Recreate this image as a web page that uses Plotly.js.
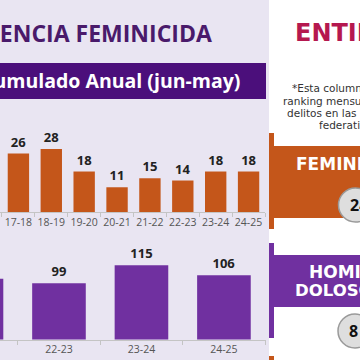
<!DOCTYPE html>
<html>
<head>
<meta charset="utf-8">
<script src="https://cdn.plot.ly/plotly-3.0.1.min.js"></script>
<style>html,body{margin:0;padding:0;background:#e9e5f2;}#chart{width:360px;height:360px;}</style>
</head>
<body>
<div id="chart"></div>
<script>
// ---- data ----
const categoriesTop = ['17-18','18-19','19-20','20-21','21-22','22-23','23-24','24-25'];
const valuesTop = [26, 28, 18, 11, 15, 14, 18, 18];
const categoriesBottom = ['21-22','22-23','23-24','24-25'];
const valuesBottom = [103, 99, 115, 106];
const titleText = 'VIOLENCIA FEMINICIDA';
const bannerText = 'Acumulado Anual (jun-may)';
const sideTitle = 'ENTIDAD';
const noteLines = ['*Esta columna muestra el', 'ranking mensual de los', 'delitos en las entidades', 'federativas'];
const rankFeminicidio = '24';
const rankHomicidio = '8';

// ---- helpers (pixel -> paper) ----
const W = 360, H = 360;
const px = v => v / W;
const py = v => 1 - v / H;

const ORANGE = '#c4561a';
const PURPLE = '#7030a0';
const FONT = 'Open Sans, Noto Sans, sans-serif';
const WIDE = 'DejaVu Sans, sans-serif';

const traces = [
  {
    type: 'bar', x: categoriesTop, y: valuesTop, xaxis: 'x', yaxis: 'y',
    marker: {color: ORANGE}, text: valuesTop.map(String), textposition: 'outside',
    textfont: {family: FONT, size: 13, color: '#222', weight: 'bold'},
    cliponaxis: false, hoverinfo: 'none'
  },
  {
    type: 'bar', x: categoriesBottom, y: valuesBottom, xaxis: 'x2', yaxis: 'y2',
    marker: {color: PURPLE}, text: valuesBottom.map(String), textposition: 'outside',
    textfont: {family: FONT, size: 13, color: '#222', weight: 'bold'},
    cliponaxis: false, hoverinfo: 'none'
  }
];

const axisCommon = {
  type: 'category', showgrid: false, zeroline: false, showline: true,
  linecolor: '#c4c4c4', linewidth: 1, ticks: 'outside', tickson: 'boundaries',
  ticklen: 4, tickcolor: '#c4c4c4', tickangle: 0,
  tickfont: {family: FONT, size: 10.5, color: '#555'}
};

function note(text, x, y) {
  return {text: text, xref: 'paper', yref: 'paper', x: px(x), y: py(y), xanchor: 'left', yanchor: 'middle',
    showarrow: false, height: 12, font: {family: WIDE, size: 10.5, color: '#333'}};
}
function label(text, x, y, size) {
  return {text: '<b>' + text + '</b>', xref: 'paper', yref: 'paper', x: px(x), y: py(y), xanchor: 'left', yanchor: 'middle',
    showarrow: false, height: 16, font: {family: WIDE, size: size, color: '#ffffff'}};
}

const layout = {
  width: W, height: H,
  margin: {l: 0, r: 0, t: 0, b: 0},
  paper_bgcolor: '#e9e5f2', plot_bgcolor: 'rgba(0,0,0,0)',
  showlegend: false,
  font: {family: FONT},
  xaxis: Object.assign({}, axisCommon, {domain: [0, px(265)], range: [-0.56, 7.5], anchor: 'y'}),
  yaxis: {domain: [py(212), py(120)], range: [0, 40.9], visible: false, anchor: 'x'},
  xaxis2: Object.assign({}, axisCommon, {domain: [0, px(266)], range: [0.285, 3.51], anchor: 'y2'}),
  yaxis2: {domain: [py(339.5), py(240)], range: [49, 137.4], visible: false, anchor: 'x2'},
  bargap: 0.35,
  shapes: [
    {type: 'rect', xref: 'paper', yref: 'paper', x0: px(-5), x1: px(266), y0: py(99), y1: py(63),
      fillcolor: '#4b0f7b', line: {width: 0}, layer: 'below'},
    {type: 'rect', xref: 'paper', yref: 'paper', x0: px(269), x1: px(365), y0: py(365), y1: py(-5),
      fillcolor: '#ffffff', line: {width: 0}, layer: 'below'},
    {type: 'rect', xref: 'paper', yref: 'paper', x0: px(269), x1: px(274), y0: py(229), y1: py(133),
      fillcolor: ORANGE, line: {width: 0}, layer: 'below'},
    {type: 'rect', xref: 'paper', yref: 'paper', x0: px(273), x1: px(365), y0: py(218), y1: py(146),
      fillcolor: ORANGE, line: {width: 0}, layer: 'below'},
    {type: 'rect', xref: 'paper', yref: 'paper', x0: px(269), x1: px(274), y0: py(338), y1: py(243),
      fillcolor: PURPLE, line: {width: 0}, layer: 'below'},
    {type: 'rect', xref: 'paper', yref: 'paper', x0: px(273), x1: px(365), y0: py(307), y1: py(255),
      fillcolor: PURPLE, line: {width: 0}, layer: 'below'},
    {type: 'rect', xref: 'paper', yref: 'paper', x0: px(269), x1: px(274), y0: py(365), y1: py(356),
      fillcolor: ORANGE, line: {width: 0}, layer: 'below'},
    {type: 'circle', xref: 'paper', yref: 'paper', x0: px(338.5), x1: px(372.5), y0: py(222), y1: py(188),
      fillcolor: '#dedede', line: {color: '#9a9a9a', width: 1.5}, layer: 'above'},
    {type: 'circle', xref: 'paper', yref: 'paper', x0: px(338), x1: px(372), y0: py(348), y1: py(314),
      fillcolor: '#dedede', line: {color: '#9a9a9a', width: 1.5}, layer: 'above'}
  ],
  annotations: [
    {text: '<b>' + titleText + '</b>', xref: 'paper', yref: 'paper', x: px(214), y: py(33),
      xanchor: 'right', yanchor: 'middle', showarrow: false,
      font: {family: FONT, size: 23, color: '#4a1a6b'}},
    {text: '<b>' + bannerText + '</b>', xref: 'paper', yref: 'paper', x: px(242), y: py(81),
      xanchor: 'right', yanchor: 'middle', showarrow: false,
      font: {family: FONT, size: 19.5, color: '#ffffff'}},
    {text: '<b>' + sideTitle + '</b>', xref: 'paper', yref: 'paper', x: px(293), y: py(33),
      xanchor: 'left', yanchor: 'middle', showarrow: false,
      font: {family: WIDE, size: 24, color: '#b5184f'}},
    note(noteLines[0], 290, 88),
    note(noteLines[1], 281, 101),
    note(noteLines[2], 285, 113),
    note(noteLines[3], 317, 125),
    label('FEMINICIDIO', 294, 164, 17),
    label('HOMICIDIO', 307, 272, 17),
    label('DOLOSO', 293, 290, 16.5),
    {text: '<b>' + rankFeminicidio + '</b>', xref: 'paper', yref: 'paper', x: px(348), y: py(205), xanchor: 'left', yanchor: 'middle', showarrow: false, font: {family: FONT, size: 16, color: '#111'}},
    {text: '<b>' + rankHomicidio + '</b>', xref: 'paper', yref: 'paper', x: px(347), y: py(331), xanchor: 'left', yanchor: 'middle', showarrow: false, font: {family: FONT, size: 16, color: '#111'}}
  ]
};

Plotly.newPlot('chart', traces, layout, {staticPlot: true, displayModeBar: false});
</script>
</body>
</html>
